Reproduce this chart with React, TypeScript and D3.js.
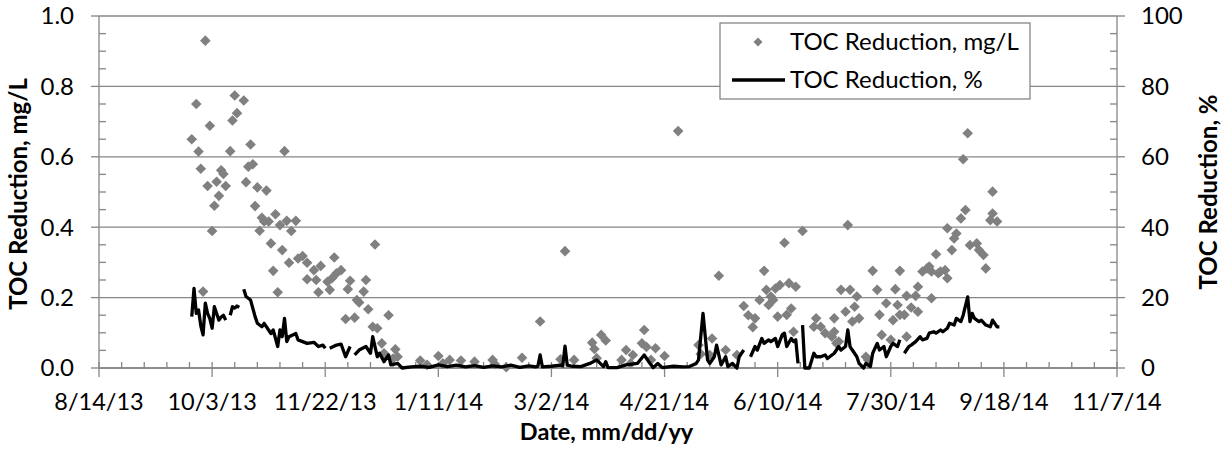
import React from "react";
import * as d3 from "d3";

// Day offsets are counted from the first x-axis date (8/14/13).
const startDate = "8/14/13";
const xTickLabels = ["8/14/13", "10/3/13", "11/22/13", "1/11/14", "3/2/14", "4/21/14", "6/10/14", "7/30/14", "9/18/14", "11/7/14"];
const yLeftTicks = [0, 0.2, 0.4, 0.6, 0.8, 1.0];
const yRightTicks = [0, 20, 40, 60, 80, 100];
const seriesNames = ["TOC Reduction, mg/L", "TOC Reduction, %"];

// TOC Reduction, mg/L  [day offset, value]
const tocMgL: [number, number][] = [
  [41, 0.65], [43, 0.75], [44, 0.615], [45, 0.566], [46, 0.217], [47, 0.93], [48, 0.517], [49, 0.688], [50, 0.389],
  [51, 0.461], [52, 0.529], [53, 0.489], [54, 0.562], [55, 0.551], [56, 0.517], [58, 0.616], [59, 0.703], [60, 0.774],
  [61, 0.724], [64, 0.76], [65, 0.528], [66, 0.572], [67, 0.635], [68, 0.579], [69, 0.46], [70, 0.513], [71, 0.39],
  [72, 0.427], [73, 0.416], [74, 0.504], [75, 0.416], [76, 0.354], [77, 0.276], [78, 0.437], [79, 0.215], [80, 0.406],
  [81, 0.335], [82, 0.616], [83, 0.418], [84, 0.299], [85, 0.389], [87, 0.418], [88, 0.311], [90, 0.318], [92, 0.299],
  [92, 0.252], [95, 0.278], [96, 0.25], [97, 0.215], [98, 0.29], [101, 0.245], [102, 0.222], [103, 0.255], [104, 0.314],
  [105, 0.269], [107, 0.278], [109, 0.139], [110, 0.224], [111, 0.248], [113, 0.143], [114, 0.193], [115, 0.186],
  [117, 0.217], [118, 0.25], [119, 0.167], [121, 0.117], [122, 0.351], [123, 0.113], [125, 0.07], [126, 0.042],
  [128, 0.15], [130, 0.027], [131, 0.053], [132, 0.032], [142, 0.021], [145, 0.009], [150, 0.034], [152, 0.013],
  [155, 0.023], [160, 0.021], [166, 0.018], [174, 0.023], [175, 0.011], [180, 0.002], [187, 0.029], [195, 0.132],
  [204, 0.025], [206, 0.332], [210, 0.023], [218, 0.072], [219, 0.054], [220, 0.028], [222, 0.094], [224, 0.078],
  [231, 0.023], [233, 0.051], [235, 0.013], [236, 0.037], [240, 0.07], [241, 0.108], [242, 0.06], [244, 0.023],
  [246, 0.056], [250, 0.034], [256, 0.673], [265, 0.065], [266, 0.04], [270, 0.037], [271, 0.084], [274, 0.262],
  [277, 0.051], [282, 0.037], [285, 0.176], [287, 0.15], [289, 0.116], [290, 0.141], [292, 0.193], [294, 0.276],
  [295, 0.222], [296, 0.179], [297, 0.203], [298, 0.193], [299, 0.226], [300, 0.146], [301, 0.236], [303, 0.356],
  [304, 0.151], [305, 0.241], [306, 0.169], [307, 0.103], [308, 0.231], [311, 0.389], [316, 0.117], [317, 0.141],
  [319, 0.117], [321, 0.099], [324, 0.089], [325, 0.141], [325, 0.103], [326, 0.07], [327, 0.075], [328, 0.222],
  [330, 0.16], [331, 0.406], [332, 0.222], [333, 0.132], [334, 0.174], [335, 0.203], [336, 0.141], [339, 0.032],
  [340, 0.023], [342, 0.276], [344, 0.222], [345, 0.151], [346, 0.094], [348, 0.184], [350, 0.08], [351, 0.136],
  [352, 0.224], [353, 0.179], [354, 0.276], [354, 0.151], [356, 0.151], [357, 0.089], [357, 0.205], [359, 0.172],
  [361, 0.205], [362, 0.231], [362, 0.16], [364, 0.274], [366, 0.283], [367, 0.288], [368, 0.198], [368, 0.274],
  [370, 0.323], [371, 0.269], [372, 0.274], [374, 0.278], [375, 0.255], [375, 0.397], [377, 0.335], [378, 0.368],
  [379, 0.382], [381, 0.425], [382, 0.593], [383, 0.449], [384, 0.667], [385, 0.349], [388, 0.354], [389, 0.335],
  [391, 0.321], [392, 0.283], [394, 0.42], [395, 0.501], [395, 0.439], [397, 0.416],
];

// TOC Reduction, %  [day offset, value]; null = missing day (gap in line)
const tocPct: [number, number | null][] = [
  [41, 14.6], [42, 22.6], [43, 15.5], [44, 16.5], [45, 12], [46, 9.4], [47, 18.4], [48, 15.5], [49, 14], [50, 11.3],
  [51, 17.4], [52, 15.5], [53, 13.6], [54, 14.5], [55, 15], [56, 13.6], [57, null],
  [58, 15], [59, 17.4], [60, 17], [61, 17.6], [62, 17.2], [63, null],
  [64, 22.4], [65, 20.3], [67, 19.3], [69, 14.6], [70, 12.7], [72, 11.7], [73, 12.7], [76, 9.8], [77, 10.8], [79, 6.1],
  [80, 10.8], [81, 8.9], [82, 14.1], [83, 7.5], [84, 8.9], [87, 9.8], [88, 8], [90, 7.5], [92, 7], [95, 7.3], [97, 6.1],
  [99, 6.5], [100, 5.6], [101, null],
  [102, 5.6], [105, 6.5], [107, 6.8], [109, 3.2], [111, 6.1], [112, null],
  [113, 3.7], [115, 5.1], [118, 6.1], [120, 4.2], [121, 8.9], [123, 3.2], [124, 4.2], [126, 1.8], [128, 3.7], [129, 0.9],
  [132, 1.3], [134, 0], [138, 0.3], [142, 0.5], [146, 0.2], [150, 0.9], [154, 0.4], [158, 0.8], [162, 0.3], [166, 0.7],
  [170, 0.2], [174, 0.6], [178, 0.3], [182, 0.8], [186, 0.2], [190, 0.6], [193, 0.3], [194, 0.5], [195, 3.7], [196, 0.3],
  [200, 0.5], [204, 0.8], [205, 0.6], [206, 6.2], [207, 0.8], [209, 0.5], [213, 0.4], [217, 1.3], [220, 2.3], [223, 0.4],
  [224, 1.8], [225, 0.1], [229, 0.1], [233, 0.9], [238, 1.3], [241, 3.7], [243, 1.8], [245, 0.1], [247, 1.3], [249, 0.1],
  [254, 0.5], [258, 0.3], [261, 0.4], [264, 1.3], [265, 2.3], [267, 15.5], [269, 2.3], [270, 1.3], [272, 3.2], [273, 6.5],
  [275, 0.9], [277, 3.2], [278, 0.4], [280, 1.3], [282, 0], [283, 3.2], [285, 5.1], [286, null],
  [288, 3.2], [290, 6.1], [291, 5.1], [293, 8.4], [294, 7], [296, 8], [297, 7.5], [299, 8.4], [300, 6.1], [302, 9.4],
  [303, 9.9], [304, 6.1], [306, 8.4], [307, 7.5], [308, 8], [309, 1.3], [310, null],
  [311, 12.2], [312, 0], [314, 0], [316, 4.2], [317, 3.2], [319, 3.2], [321, 3.7], [322, 2.7], [324, 3.7], [325, 4.2],
  [327, 6.1], [328, 5.1], [330, 6.1], [331, 10.8], [332, 6.1], [333, 5.1], [335, 3.2], [336, 1.3], [338, 0], [339, 1.3],
  [341, 0.4], [342, 4.2], [344, 7], [345, 5.1], [347, 6.1], [348, 3.2], [350, 6.1], [351, 7], [353, 6.1], [354, 8],
  [355, null],
  [356, 4.2], [358, 6.1], [359, 6.5], [361, 7.5], [363, 8.9], [364, 8], [366, 8.4], [367, 9.9], [369, 10.3], [370, 9.9],
  [372, 10.8], [373, 10.3], [375, 11.3], [376, 12.7], [378, 12.2], [379, 14.1], [381, 13.2], [382, 15], [384, 20.2],
  [385, 13.2], [386, 15.5], [387, 14.1], [389, 13.2], [390, 13.6], [392, 12.2], [394, 11.7], [395, 13.6], [397, 11.7],
  [398, 11.7],
];

const W = 1228;
const H = 450;
const M = { left: 99, right: 1117, top: 16, bottom: 368 };
const AXIS = "#868686";
const MARKER = "#808080";
const FONT = "Lato, 'Open Sans', sans-serif";

const parse = d3.utcParse("%m/%d/%y");
const base = parse(startDate) as Date;
const toDate = (d: number) => d3.utcDay.offset(base, d);

const diamond = (r: number) => `M0,${-r}L${r},0L0,${r}L${-r},0Z`;

export default function App() {
  const tickDates = xTickLabels.map((s) => parse(s) as Date);
  const x = d3.scaleUtc().domain([tickDates[0], tickDates[tickDates.length - 1]]).range([M.left, M.right]);
  const yL = d3.scaleLinear().domain([0, 1]).range([M.bottom, M.top]);
  const yR = d3.scaleLinear().domain([0, 100]).range([M.bottom, M.top]);

  const minorX = d3.utcDay.range(tickDates[0], tickDates[tickDates.length - 1], 1).filter((d) => {
    const n = Math.round((+d - +tickDates[0]) / 864e5);
    return n % 10 === 0 && n % 50 !== 0;
  });
  const minorL = d3.range(0, 1.0001, 0.05).filter((v) => Math.abs(v * 5 - Math.round(v * 5)) > 1e-6);
  const minorR = d3.range(0, 100.001, 5).filter((v) => v % 20 !== 0);

  const line = d3
    .line<[number, number | null]>()
    .defined((d) => d[1] !== null)
    .x((d) => x(toDate(d[0])))
    .y((d) => yR(d[1] as number));

  return (
    <svg width={W} height={H} style={{ position: "absolute", left: 0, top: 0, background: "#fff" }} fontFamily={FONT}>
      <rect x={0} y={0} width={W} height={H} fill="#fff" />
      {/* gridlines */}
      {yLeftTicks.map((v) => (
        <line key={"g" + v} x1={M.left} x2={M.right} y1={yL(v)} y2={yL(v)} stroke={AXIS} strokeWidth={1.3} />
      ))}
      {/* axes */}
      <line x1={M.left} x2={M.left} y1={M.top} y2={M.bottom} stroke={AXIS} strokeWidth={1.3} />
      <line x1={M.right} x2={M.right} y1={M.top} y2={M.bottom} stroke={AXIS} strokeWidth={1.3} />
      <line x1={M.left} x2={M.right} y1={M.bottom} y2={M.bottom} stroke={AXIS} strokeWidth={1.3} />
      {/* left ticks */}
      {yLeftTicks.map((v) => (
        <line key={"lt" + v} x1={M.left - 8} x2={M.left} y1={yL(v)} y2={yL(v)} stroke={AXIS} strokeWidth={1.3} />
      ))}
      {minorL.map((v) => (
        <line key={"lm" + v} x1={M.left} x2={M.left + 7} y1={yL(v)} y2={yL(v)} stroke={AXIS} strokeWidth={1.3} />
      ))}
      {yRightTicks.map((v) => (
        <line key={"rt" + v} x1={M.right} x2={M.right + 8} y1={yR(v)} y2={yR(v)} stroke={AXIS} strokeWidth={1.3} />
      ))}
      {minorR.map((v) => (
        <line key={"rm" + v} x1={M.right - 7} x2={M.right} y1={yR(v)} y2={yR(v)} stroke={AXIS} strokeWidth={1.3} />
      ))}
      {tickDates.map((d, i) => (
        <line key={"xt" + i} x1={x(d)} x2={x(d)} y1={M.bottom - 6} y2={M.bottom + 9} stroke={AXIS} strokeWidth={1.3} />
      ))}
      {minorX.map((d, i) => (
        <line key={"xm" + i} x1={x(d)} x2={x(d)} y1={M.bottom - 6} y2={M.bottom} stroke={AXIS} strokeWidth={1.3} />
      ))}
      {/* tick labels */}
      {yLeftTicks.map((v) => (
        <text key={"ll" + v} x={74} y={yL(v)} dy="0.35em" textAnchor="end" fontSize={24} fill="#000">
          {d3.format(".1f")(v)}
        </text>
      ))}
      {yRightTicks.map((v) => (
        <text key={"rl" + v} x={1141} y={yR(v)} dy="0.35em" textAnchor="start" fontSize={24} fill="#000">
          {v}
        </text>
      ))}
      {tickDates.map((d, i) => (
        <text key={"xl" + i} x={x(d)} y={410} textAnchor="middle" fontSize={23.5} fill="#000">
          {xTickLabels[i]}
        </text>
      ))}
      {/* axis titles */}
      <text x={606.5} y={440} textAnchor="middle" fontSize={23.5} fontWeight="bold" fill="#000">
        Date, mm/dd/yy
      </text>
      <text transform={`translate(27,194) rotate(-90)`} textAnchor="middle" fontSize={24} fontWeight="bold" fill="#000">
        {seriesNames[0]}
      </text>
      <text transform={`translate(1217,192) rotate(-90)`} textAnchor="middle" fontSize={24} fontWeight="bold" fill="#000">
        {seriesNames[1]}
      </text>
      {/* scatter */}
      {tocMgL.map((p, i) => (
        <path key={"s" + i} d={diamond(5.3)} transform={`translate(${x(toDate(p[0]))},${yL(p[1])})`} fill={MARKER} />
      ))}
      {/* line */}
      <path d={line(tocPct) || ""} fill="none" stroke="#000" strokeWidth={3.3} strokeLinejoin="round" strokeLinecap="butt" />
      {/* legend */}
      <rect x={720} y={23} width={310} height={76} fill="#fff" stroke={AXIS} strokeWidth={1.3} />
      <path d={diamond(4.5)} transform="translate(758,42)" fill={MARKER} />
      <text x={790} y={42} dy="0.35em" fontSize={24} fill="#000">
        {seriesNames[0]}
      </text>
      <line x1={732} x2={785} y1={80} y2={80} stroke="#000" strokeWidth={3.5} />
      <text x={790} y={80} dy="0.35em" fontSize={24} fill="#000">
        {seriesNames[1]}
      </text>
    </svg>
  );
}
